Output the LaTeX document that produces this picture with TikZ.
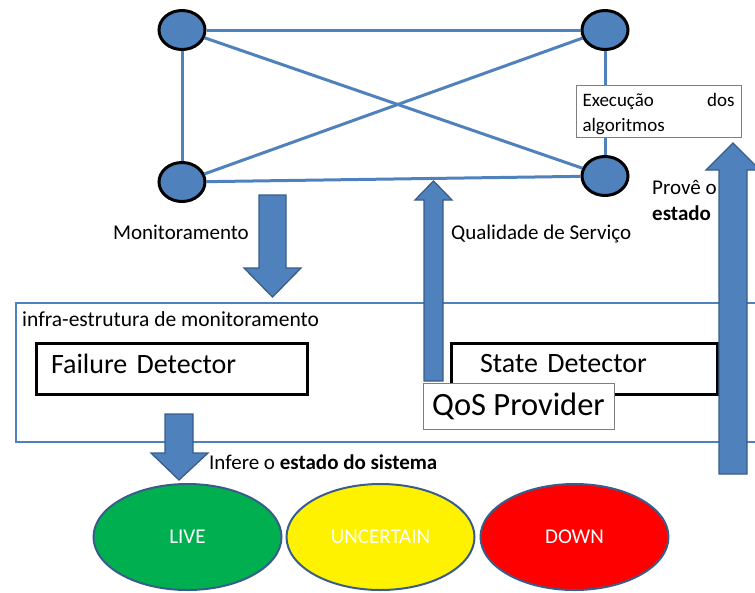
\documentclass[tikz,border=0pt]{standalone}
\usepackage{fontspec}
\setmainfont{Carlito}
\usetikzlibrary{positioning}
\usetikzlibrary{shapes.geometric}

\definecolor{nodeblue}{HTML}{4F81BD}
\definecolor{darkblue}{HTML}{385D8A}
\definecolor{livegreen}{HTML}{00B050}
\definecolor{boxgray}{HTML}{7F7F7F}

\tikzset{
    host/.style={ellipse, draw=black, line width=3pt, fill=nodeblue, minimum width=46pt, minimum height=39pt, inner sep=0pt},
    link/.style={draw=nodeblue, line width=3pt},
    blockarrow/.style={fill=nodeblue, draw=darkblue, line width=1.3pt, line join=miter},
    detector/.style={draw=black, line width=3pt, fill=white, minimum height=51pt, text depth=10pt, font=\fontsize{28}{32}\selectfont},
    statenode/.style={ellipse, draw=darkblue, line width=2pt, minimum width=188pt, minimum height=106pt, text=white},
    caption/.style={inner sep=0pt}
}

\begin{document}
\begin{tikzpicture}[x=1pt, y=-1pt, font=\fontsize{21}{25}\selectfont]
    \useasboundingbox (0, 0) rectangle (755, 592);
    % nodes of the network
    \node[host] (tl) at (182, 30) {};
    \node[host] (tr) at (605, 30) {};
    \node[host] (bl) at (182, 182) {};
    \node[host] (br) at (605, 176) {};
    \draw[link] (tl) -- (tr);
    \draw[link] (bl) -- (br);
    \draw[link] (tl) -- (bl);
    \draw[link] (tr) -- (br);
    \draw[link] (tl) -- (br);
    \draw[link] (tr) -- (bl);
    \node[draw=boxgray, line width=1pt, fill=white, anchor=north west, minimum width=165pt, minimum height=52pt, text width=152pt, text height=18pt, inner xsep=6pt, align=left, font=\fontsize{19}{23}\selectfont] (exec) at (575.5, 84.5) {Execução\hfill dos\\[2pt]algoritmos};

    % monitoring infrastructure
    \node[draw=nodeblue, line width=2pt, anchor=north west, minimum width=760pt, minimum height=139pt] (infra) at (15, 302) {};
    \node[caption, anchor=base west, font=\fontsize{21.5}{25}\selectfont] (infralabel) at (22, 326) {infra-estrutura de monitoramento};
    \node[detector, anchor=north west, text width=241pt, inner xsep=15pt] (failure) at (34.5, 341.5) {Failure Detector};
    \node[detector, anchor=north west, text width=208pt, inner xsep=29pt] (state) at (449.5, 341.5) {State Detector};

    % block arrows
    \draw[blockarrow] (259, 195) -- (286, 195) -- (286, 268) -- (301, 268) -- (272.5, 297) -- (244, 268) -- (259, 268) -- cycle;
    \draw[blockarrow] (424, 381) -- (443, 381) -- (443, 200) -- (452, 200) -- (433.5, 181) -- (415, 200) -- (424, 200) -- cycle;
    \draw[blockarrow] (719, 474) -- (747, 474) -- (747, 170) -- (760, 170) -- (733, 143) -- (706, 170) -- (719, 170) -- cycle;
    \node[draw=boxgray, line width=1pt, fill=white, anchor=north west, minimum width=191pt, minimum height=46pt, font=\fontsize{32.5}{36}\selectfont] (qos) at (422.5, 382.5) {QoS Provider};

    \node[caption, anchor=base east] (monlabel) at (249, 239) {Monitoramento};
    \node[caption, anchor=base west] (qoslabel) at (451, 239) {Qualidade de Serviço};
    \node[caption, anchor=base west, align=left] (provlabel) at (652, 220) {Provê o\\[1pt]\textbf{estado}};

    % states of the system
    \node[statenode, fill=livegreen] (live) at (187.5, 537) {LIVE};
    \node[statenode, fill=yellow, right=3pt of live] (uncertain) {UNCERTAIN};
    \node[statenode, fill=red, right=4pt of uncertain] (down) {DOWN};
    \draw[blockarrow] (165, 414) -- (193, 414) -- (193, 453) -- (208, 453) -- (179, 480) -- (151, 453) -- (165, 453) -- cycle;
    \node[caption, anchor=base west] (inferlabel) at (209, 469) {Infere o \textbf{estado do sistema}};
\end{tikzpicture}
\end{document}
